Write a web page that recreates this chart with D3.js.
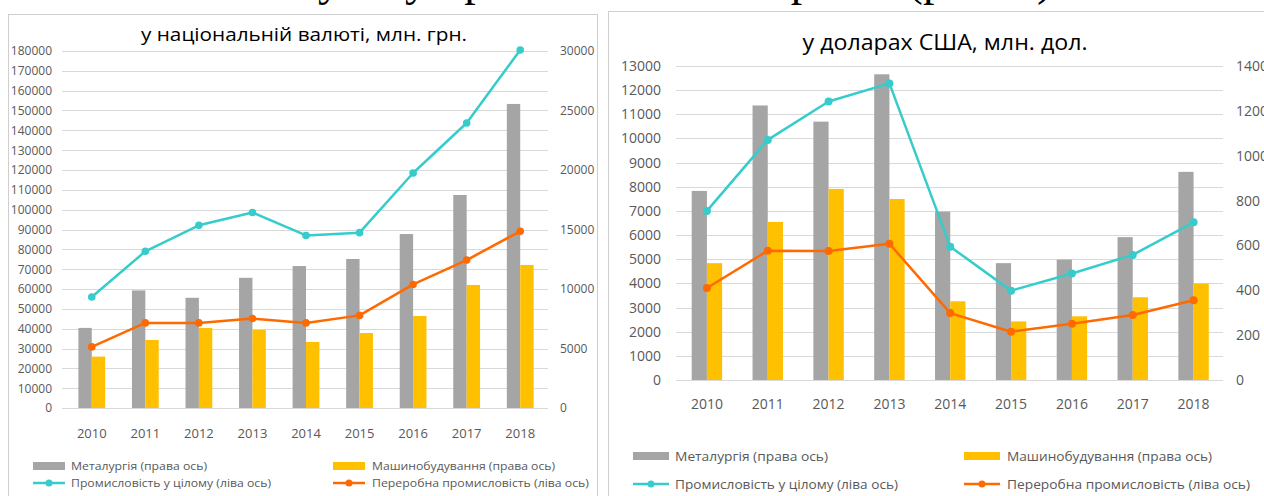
<!DOCTYPE html>
<html>
<head>
<meta charset="utf-8">
<script src="https://cdn.jsdelivr.net/npm/d3@7"></script>
<style>
  html, body { margin: 0; padding: 0; background: #ffffff; }
  svg { display: block; }
  .tick text { fill: #595959; font-family: "Open Sans", sans-serif; }
</style>
</head>
<body>
<script>
// ---------- data ----------
const years = ["2010", "2011", "2012", "2013", "2014", "2015", "2016", "2017", "2018"];

// Left chart: national currency, mln UAH
const uahMetallurgy = [6730, 9880, 9260, 10940, 11930, 12520, 14620, 17900, 25550];   // right axis
const uahMachinery  = [4320, 5720, 6730, 6570, 5550, 6300, 7730, 10340, 12020];       // right axis
const uahIndustry   = [56000, 79000, 92100, 98600, 87000, 88400, 118500, 143700, 180500]; // left axis
const uahProcessing = [30800, 42900, 42900, 45100, 42900, 46700, 62300, 74600, 89100];    // left axis
const uahLeftTicks  = d3.range(0, 180001, 10000);
const uahRightTicks = [0, 5000, 10000, 15000, 20000, 25000, 30000];

// Right chart: US dollars, mln USD
const usdMetallurgy = [843, 1224, 1152, 1363, 751, 521, 537, 637, 928];      // right axis
const usdMachinery  = [521, 705, 852, 807, 351, 261, 284, 369, 430];         // right axis
const usdIndustry   = [7000, 9940, 11530, 12280, 5520, 3700, 4410, 5180, 6530]; // left axis
const usdProcessing = [3810, 5350, 5340, 5640, 2770, 2000, 2330, 2690, 3300];   // left axis
const usdLeftTicks  = d3.range(0, 13001, 1000);
const usdRightTicks = [0, 200, 400, 600, 800, 1000, 1200, 1400];

const titles = ["у національній валюті, млн. грн.", "у доларах США, млн. дол."];
const legendLabels = ["Металургія (права ось)", "Машинобудування (права ось)",
                      "Промисловість у цілому (ліва ось)", "Переробна промисловість (ліва ось)"];
const headerText = "у та у промисловості України (рис. 4)";

// ---------- style ----------
const C = { gray: "#a5a5a5", yellow: "#ffc000", teal: "#36cccb", orange: "#ff6a00",
            grid: "#d9d9d9", border: "#cfcfcf", text: "#595959" };

const svg = d3.select("body").append("svg").attr("width", 1264).attr("height", 496);

// cropped header line of the page (only descenders visible)
svg.append("text").attr("x", 318).attr("y", -5).attr("text-anchor", "start")
  .attr("font-family", "Liberation Serif, serif").attr("font-size", 46).attr("fill", "#000")
  .text(headerText);

// panel borders
svg.append("rect").attr("x", 8.5).attr("y", 14.5).attr("width", 589).attr("height", 520)
  .attr("fill", "none").attr("stroke", C.border);
svg.append("rect").attr("x", 608.5).attr("y", 11.5).attr("width", 700).attr("height", 520)
  .attr("fill", "none").attr("stroke", C.border);

function drawChart(cfg) {
  const g = svg.append("g");
  const x = d3.scaleBand().domain(years).range([cfg.x0, cfg.x1]).padding(0);
  const yL = d3.scaleLinear().domain([0, cfg.leftMax]).range([cfg.yBottom, cfg.yTop]);
  const yR = d3.scaleLinear().domain([0, cfg.rightMax]).range([cfg.yBottom, cfg.yTop]);
  const bw = x.bandwidth() * 0.25;
  const cx = d => x(d) + x.bandwidth() / 2;

  // gridlines
  g.append("g").selectAll("line").data(cfg.leftTicks).join("line")
    .attr("x1", cfg.gx0).attr("x2", cfg.gx1)
    .attr("y1", d => Math.round(yL(d)) + 0.5).attr("y2", d => Math.round(yL(d)) + 0.5)
    .attr("stroke", C.grid).attr("stroke-width", 1);

  // axes (labels only)
  const axL = g.append("g").attr("transform", `translate(${cfg.gx0},0)`)
    .call(d3.axisLeft(yL).tickValues(cfg.leftTicks).tickSize(0).tickPadding(cfg.padL).tickFormat(d3.format("d")));
  const axR = g.append("g").attr("transform", `translate(${cfg.gx1},0)`)
    .call(d3.axisRight(yR).tickValues(cfg.rightTicks).tickSize(0).tickPadding(cfg.padR).tickFormat(d3.format("d")));
  const axB = g.append("g").attr("transform", `translate(0,${cfg.yBottom})`)
    .call(d3.axisBottom(x).tickSize(0).tickPadding(cfg.padB));
  [axL, axR, axB].forEach(a => { a.select(".domain").remove(); });
  axL.selectAll("text").attr("font-size", cfg.tickFont);
  axR.selectAll("text").attr("font-size", cfg.tickFont);
  axB.selectAll("text").attr("font-size", cfg.yearFont);

  // bars
  g.append("g").selectAll("rect").data(years).join("rect")
    .attr("x", d => cx(d) - bw).attr("width", bw)
    .attr("y", (d, i) => yR(cfg.metallurgy[i])).attr("height", (d, i) => cfg.yBottom - yR(cfg.metallurgy[i]))
    .attr("fill", C.gray);
  g.append("g").selectAll("rect").data(years).join("rect")
    .attr("x", d => cx(d)).attr("width", bw)
    .attr("y", (d, i) => yR(cfg.machinery[i])).attr("height", (d, i) => cfg.yBottom - yR(cfg.machinery[i]))
    .attr("fill", C.yellow);

  // lines
  const series = [{ v: cfg.industry, c: C.teal }, { v: cfg.processing, c: C.orange }];
  series.forEach(s => {
    const line = d3.line().x((d, i) => cx(years[i])).y(d => yL(d));
    g.append("path").datum(s.v).attr("d", line).attr("fill", "none")
      .attr("stroke", s.c).attr("stroke-width", 2.5).attr("stroke-linejoin", "round");
    g.append("g").selectAll("circle").data(s.v).join("circle")
      .attr("cx", (d, i) => cx(years[i])).attr("cy", d => yL(d)).attr("r", cfg.r).attr("fill", s.c);
  });

  // title
  g.append("text").attr("x", cfg.titleX).attr("y", cfg.titleY).attr("text-anchor", "middle")
    .attr("font-family", "Open Sans, sans-serif").attr("font-size", cfg.titleFont).attr("fill", "#000")
    .attr("textLength", cfg.titleLen).attr("lengthAdjust", "spacingAndGlyphs")
    .text(cfg.title);

  // legend
  const lg = g.append("g").attr("font-family", "Open Sans, sans-serif").attr("font-size", cfg.legFont).attr("fill", C.text);
  const items = [
    { type: "bar", c: C.gray, sx: cfg.legX[0], y: cfg.legY[0], tx: cfg.legTX[0], len: cfg.legLen[0], label: legendLabels[0] },
    { type: "bar", c: C.yellow, sx: cfg.legX[1], y: cfg.legY[0], tx: cfg.legTX[1], len: cfg.legLen[1], label: legendLabels[1] },
    { type: "line", c: C.teal, sx: cfg.legX[0], y: cfg.legY[1], tx: cfg.legTX[0], len: cfg.legLen[2], label: legendLabels[2] },
    { type: "line", c: C.orange, sx: cfg.legX[1], y: cfg.legY[1], tx: cfg.legTX[1], len: cfg.legLen[3], label: legendLabels[3] }
  ];
  items.forEach(it => {
    if (it.type === "bar") {
      lg.append("rect").attr("x", it.sx).attr("y", it.y - 4).attr("width", cfg.swW).attr("height", 8).attr("fill", it.c);
    } else {
      lg.append("line").attr("x1", it.sx).attr("x2", it.sx + cfg.swW).attr("y1", it.y).attr("y2", it.y)
        .attr("stroke", it.c).attr("stroke-width", 2.5);
      lg.append("circle").attr("cx", it.sx + cfg.swW / 2).attr("cy", it.y).attr("r", 3.5).attr("fill", it.c);
    }
    lg.append("text").attr("x", it.tx).attr("y", it.y).attr("dy", "0.35em")
      .attr("textLength", it.len).attr("lengthAdjust", "spacingAndGlyphs").text(it.label);
  });
}

drawChart({
  x0: 65, x1: 547, gx0: 62, gx1: 548, yTop: 51, yBottom: 408,
  leftMax: 180000, rightMax: 30000, leftTicks: uahLeftTicks, rightTicks: uahRightTicks,
  padL: 10, padR: 12, padB: 21, tickFont: 12, yearFont: 13, r: 3.8,
  metallurgy: uahMetallurgy, machinery: uahMachinery, industry: uahIndustry, processing: uahProcessing,
  title: titles[0], titleX: 304, titleY: 41, titleFont: 18, titleLen: 326,
  legFont: 11.5, legX: [33, 333], legTX: [71, 372], legY: [466, 483], legLen: [136, 183, 200, 217], swW: 32
});

drawChart({
  x0: 676.5, x1: 1224, gx0: 676, gx1: 1223, yTop: 66, yBottom: 380,
  leftMax: 13000, rightMax: 1400, leftTicks: usdLeftTicks, rightTicks: usdRightTicks,
  padL: 15, padR: 13, padB: 19, tickFont: 14, yearFont: 14, r: 4,
  metallurgy: usdMetallurgy, machinery: usdMachinery, industry: usdIndustry, processing: usdProcessing,
  title: titles[1], titleX: 945, titleY: 50, titleFont: 21, titleLen: 285,
  legFont: 13, legX: [633, 964], legTX: [675, 1007], legY: [456, 484], legLen: [153, 205, 223, 243], swW: 36
});
</script>
</body>
</html>
